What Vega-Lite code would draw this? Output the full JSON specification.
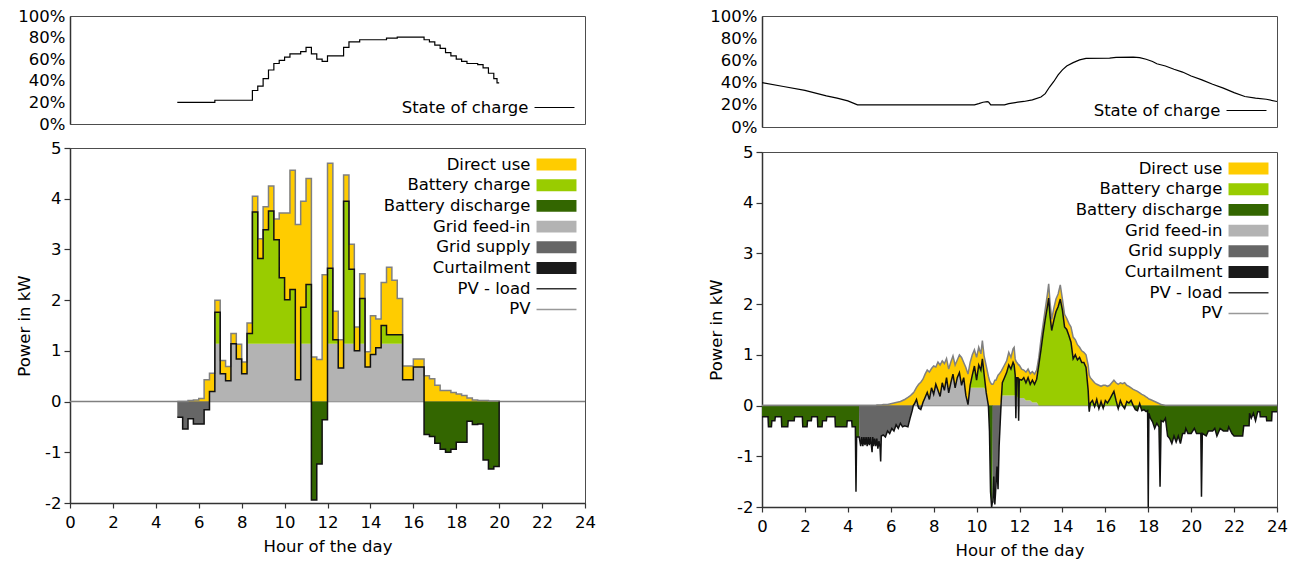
{
"$schema": "https://vega.github.io/schema/vega-lite/v6.json",
"background": "white",
"padding": {"left": 16, "top": 7, "right": 5, "bottom": 0},
"config": {
 "font": "DejaVu Sans",
 "view": {"stroke": "#4d4d4d", "strokeWidth": 1},
 "axis": {"labelFontSize": 16.5, "labelColor": "#000", "titleFontSize": 16.5, "titleFontWeight": "normal", "titleColor": "#000", "domainColor": "#333", "domainWidth": 1.5, "tickColor": "#333", "tickWidth": 1.2, "grid": false, "labelOverlap": false, "labelFlush": false},
 "legend": {"labelFontSize": 16.5, "labelColor": "#000", "padding": 0}
},
"datasets": {
"L": [
{"t":5,"pv":0,"net":-0.31,"feed":0,"chg":0,"dir":0,"dis":0,"sup":-0.31},
{"t":5.25,"pv":0,"net":-0.54,"feed":0,"chg":0,"dir":0,"dis":0,"sup":-0.54},
{"t":5.5,"pv":0.02,"net":-0.34,"feed":0,"chg":0,"dir":0.02,"dis":0,"sup":-0.34},
{"t":5.75,"pv":0.03,"net":-0.44,"feed":0,"chg":0,"dir":0.03,"dis":0,"sup":-0.44},
{"t":6,"pv":0.06,"net":-0.44,"feed":0,"chg":0,"dir":0.06,"dis":0,"sup":-0.44},
{"t":6.25,"pv":0.43,"net":-0.16,"feed":0,"chg":0,"dir":0.43,"dis":0,"sup":-0.16},
{"t":6.5,"pv":0.56,"net":0.2,"feed":0.2,"chg":0,"dir":0.36,"dis":0,"sup":0},
{"t":6.75,"pv":2,"net":1.76,"feed":1.14,"chg":0.62,"dir":0.24,"dis":0,"sup":0},
{"t":7,"pv":0.81,"net":0.55,"feed":0.55,"chg":0,"dir":0.26,"dis":0,"sup":0},
{"t":7.25,"pv":0.69,"net":0.41,"feed":0.41,"chg":0,"dir":0.28,"dis":0,"sup":0},
{"t":7.5,"pv":1.34,"net":1.14,"feed":1.14,"chg":0,"dir":0.2,"dis":0,"sup":0},
{"t":7.75,"pv":1.13,"net":0.84,"feed":0.84,"chg":0,"dir":0.29,"dis":0,"sup":0},
{"t":8,"pv":0.78,"net":0.55,"feed":0.55,"chg":0,"dir":0.23,"dis":0,"sup":0},
{"t":8.25,"pv":1.55,"net":1.34,"feed":1.14,"chg":0.2,"dir":0.21,"dis":0,"sup":0},
{"t":8.5,"pv":4.05,"net":3.74,"feed":1.14,"chg":2.6,"dir":0.31,"dis":0,"sup":0},
{"t":8.75,"pv":3.21,"net":2.82,"feed":1.14,"chg":1.68,"dir":0.39,"dis":0,"sup":0},
{"t":9,"pv":3.84,"net":3.39,"feed":1.14,"chg":2.25,"dir":0.45,"dis":0,"sup":0},
{"t":9.25,"pv":4.25,"net":3.76,"feed":1.14,"chg":2.62,"dir":0.49,"dis":0,"sup":0},
{"t":9.5,"pv":3.6,"net":3.19,"feed":1.14,"chg":2.05,"dir":0.41,"dis":0,"sup":0},
{"t":9.75,"pv":3.72,"net":2.44,"feed":1.14,"chg":1.3,"dir":1.28,"dis":0,"sup":0},
{"t":10,"pv":3.72,"net":2.01,"feed":1.14,"chg":0.87,"dir":1.71,"dis":0,"sup":0},
{"t":10.25,"pv":4.56,"net":2.21,"feed":1.14,"chg":1.07,"dir":2.35,"dis":0,"sup":0},
{"t":10.5,"pv":3.49,"net":0.43,"feed":0.43,"chg":0,"dir":3.06,"dis":0,"sup":0},
{"t":10.75,"pv":3.95,"net":1.86,"feed":1.14,"chg":0.72,"dir":2.09,"dis":0,"sup":0},
{"t":11,"pv":4.4,"net":2.31,"feed":1.14,"chg":1.17,"dir":2.09,"dis":0,"sup":0},
{"t":11.25,"pv":0.88,"net":-1.94,"feed":0,"chg":0,"dir":0.88,"dis":-1.94,"sup":0},
{"t":11.5,"pv":0.83,"net":-1.23,"feed":0,"chg":0,"dir":0.83,"dis":-1.23,"sup":0},
{"t":11.75,"pv":2.5,"net":-0.36,"feed":0,"chg":0,"dir":2.5,"dis":-0.36,"sup":0},
{"t":12,"pv":4.7,"net":2.63,"feed":1.14,"chg":1.49,"dir":2.07,"dis":0,"sup":0},
{"t":12.25,"pv":1.78,"net":1.22,"feed":1.14,"chg":0.08,"dir":0.56,"dis":0,"sup":0},
{"t":12.5,"pv":1.22,"net":0.66,"feed":0.66,"chg":0,"dir":0.56,"dis":0,"sup":0},
{"t":12.75,"pv":4.47,"net":3.95,"feed":1.14,"chg":2.81,"dir":0.52,"dis":0,"sup":0},
{"t":13,"pv":3.1,"net":2.61,"feed":1.14,"chg":1.47,"dir":0.49,"dis":0,"sup":0},
{"t":13.25,"pv":1.47,"net":1,"feed":1,"chg":0,"dir":0.47,"dis":0,"sup":0},
{"t":13.5,"pv":2.52,"net":2.03,"feed":1.14,"chg":0.89,"dir":0.49,"dis":0,"sup":0},
{"t":13.75,"pv":0.98,"net":0.68,"feed":0.68,"chg":0,"dir":0.3,"dis":0,"sup":0},
{"t":14,"pv":1.69,"net":0.93,"feed":0.93,"chg":0,"dir":0.76,"dis":0,"sup":0},
{"t":14.25,"pv":1.63,"net":1.06,"feed":1.06,"chg":0,"dir":0.57,"dis":0,"sup":0},
{"t":14.5,"pv":2.35,"net":1.5,"feed":1.14,"chg":0.36,"dir":0.85,"dis":0,"sup":0},
{"t":14.75,"pv":2.65,"net":1.32,"feed":1.14,"chg":0.18,"dir":1.33,"dis":0,"sup":0},
{"t":15,"pv":2.39,"net":1.32,"feed":1.14,"chg":0.18,"dir":1.07,"dis":0,"sup":0},
{"t":15.25,"pv":2.03,"net":1.32,"feed":1.14,"chg":0.18,"dir":0.71,"dis":0,"sup":0},
{"t":15.5,"pv":0.7,"net":0.43,"feed":0.43,"chg":0,"dir":0.27,"dis":0,"sup":0},
{"t":15.75,"pv":0.7,"net":0.43,"feed":0.43,"chg":0,"dir":0.27,"dis":0,"sup":0},
{"t":16,"pv":0.84,"net":0.68,"feed":0.68,"chg":0,"dir":0.16,"dis":0,"sup":0},
{"t":16.25,"pv":0.84,"net":0.68,"feed":0.68,"chg":0,"dir":0.16,"dis":0,"sup":0},
{"t":16.5,"pv":0.51,"net":-0.65,"feed":0,"chg":0,"dir":0.51,"dis":-0.65,"sup":0},
{"t":16.75,"pv":0.45,"net":-0.69,"feed":0,"chg":0,"dir":0.45,"dis":-0.69,"sup":0},
{"t":17,"pv":0.32,"net":-0.82,"feed":0,"chg":0,"dir":0.32,"dis":-0.82,"sup":0},
{"t":17.25,"pv":0.22,"net":-0.94,"feed":0,"chg":0,"dir":0.22,"dis":-0.94,"sup":0},
{"t":17.5,"pv":0.22,"net":-1,"feed":0,"chg":0,"dir":0.22,"dis":-1,"sup":0},
{"t":17.75,"pv":0.18,"net":-0.94,"feed":0,"chg":0,"dir":0.18,"dis":-0.94,"sup":0},
{"t":18,"pv":0.15,"net":-0.8,"feed":0,"chg":0,"dir":0.15,"dis":-0.8,"sup":0},
{"t":18.25,"pv":0.12,"net":-0.8,"feed":0,"chg":0,"dir":0.12,"dis":-0.8,"sup":0},
{"t":18.5,"pv":0.07,"net":-0.39,"feed":0,"chg":0,"dir":0.07,"dis":-0.39,"sup":0},
{"t":18.75,"pv":0.03,"net":-0.45,"feed":0,"chg":0,"dir":0.03,"dis":-0.45,"sup":0},
{"t":19,"pv":0.02,"net":-0.44,"feed":0,"chg":0,"dir":0.02,"dis":-0.44,"sup":0},
{"t":19.25,"pv":0.02,"net":-1.15,"feed":0,"chg":0,"dir":0.02,"dis":-1.15,"sup":0},
{"t":19.5,"pv":0.01,"net":-1.33,"feed":0,"chg":0,"dir":0.01,"dis":-1.33,"sup":0},
{"t":19.75,"pv":0.01,"net":-1.28,"feed":0,"chg":0,"dir":0.01,"dis":-1.28,"sup":0},
{"t":20,"pv":0,"net":0,"feed":0,"chg":0,"dir":0,"dis":0,"sup":0}
],
"LS": [
{"t":5,"soc":20},{"t":6.75,"soc":22},{"t":8.5,"soc":31},{"t":8.75,"soc":35},{"t":9,"soc":42},{"t":9.25,"soc":50},{"t":9.5,"soc":56},{"t":9.75,"soc":59},{"t":10,"soc":62},{"t":10.25,"soc":65},{"t":10.75,"soc":67},{"t":11,"soc":71},{"t":11.25,"soc":65},{"t":11.5,"soc":60},{"t":11.75,"soc":58},{"t":12,"soc":63},{"t":12.75,"soc":71},{"t":13,"soc":76},{"t":13.5,"soc":78},{"t":14.75,"soc":79.5},{"t":15.25,"soc":80.5},{"t":16.5,"soc":78},{"t":16.75,"soc":76},{"t":17,"soc":73},{"t":17.25,"soc":70},{"t":17.5,"soc":66},{"t":17.75,"soc":63},{"t":18,"soc":60},{"t":18.25,"soc":58},{"t":18.5,"soc":56},{"t":19,"soc":55},{"t":19.25,"soc":52},{"t":19.5,"soc":47},{"t":19.75,"soc":42},{"t":19.9,"soc":38},{"t":20,"soc":38}
],
"R": [
{"t":0,"pv":0,"net":-0.22,"feed":0,"chg":0,"dir":0,"dis":-0.22,"sup":0},
{"t":0.28,"pv":0,"net":-0.22,"feed":0,"chg":0,"dir":0,"dis":-0.22,"sup":0},
{"t":0.3,"pv":0,"net":-0.42,"feed":0,"chg":0,"dir":0,"dis":-0.42,"sup":0},
{"t":0.44,"pv":0,"net":-0.42,"feed":0,"chg":0,"dir":0,"dis":-0.42,"sup":0},
{"t":0.46,"pv":0,"net":-0.3,"feed":0,"chg":0,"dir":0,"dis":-0.3,"sup":0},
{"t":0.6,"pv":0,"net":-0.3,"feed":0,"chg":0,"dir":0,"dis":-0.3,"sup":0},
{"t":0.62,"pv":0,"net":-0.22,"feed":0,"chg":0,"dir":0,"dis":-0.22,"sup":0},
{"t":0.9,"pv":0,"net":-0.22,"feed":0,"chg":0,"dir":0,"dis":-0.22,"sup":0},
{"t":0.92,"pv":0,"net":-0.42,"feed":0,"chg":0,"dir":0,"dis":-0.42,"sup":0},
{"t":1.2,"pv":0,"net":-0.42,"feed":0,"chg":0,"dir":0,"dis":-0.42,"sup":0},
{"t":1.22,"pv":0,"net":-0.3,"feed":0,"chg":0,"dir":0,"dis":-0.3,"sup":0},
{"t":1.5,"pv":0,"net":-0.3,"feed":0,"chg":0,"dir":0,"dis":-0.3,"sup":0},
{"t":1.52,"pv":0,"net":-0.22,"feed":0,"chg":0,"dir":0,"dis":-0.22,"sup":0},
{"t":1.88,"pv":0,"net":-0.22,"feed":0,"chg":0,"dir":0,"dis":-0.22,"sup":0},
{"t":1.9,"pv":0,"net":-0.42,"feed":0,"chg":0,"dir":0,"dis":-0.42,"sup":0},
{"t":2.1,"pv":0,"net":-0.42,"feed":0,"chg":0,"dir":0,"dis":-0.42,"sup":0},
{"t":2.12,"pv":0,"net":-0.3,"feed":0,"chg":0,"dir":0,"dis":-0.3,"sup":0},
{"t":2.3,"pv":0,"net":-0.3,"feed":0,"chg":0,"dir":0,"dis":-0.3,"sup":0},
{"t":2.32,"pv":0,"net":-0.22,"feed":0,"chg":0,"dir":0,"dis":-0.22,"sup":0},
{"t":2.58,"pv":0,"net":-0.22,"feed":0,"chg":0,"dir":0,"dis":-0.22,"sup":0},
{"t":2.6,"pv":0,"net":-0.42,"feed":0,"chg":0,"dir":0,"dis":-0.42,"sup":0},
{"t":2.8,"pv":0,"net":-0.42,"feed":0,"chg":0,"dir":0,"dis":-0.42,"sup":0},
{"t":2.82,"pv":0,"net":-0.3,"feed":0,"chg":0,"dir":0,"dis":-0.3,"sup":0},
{"t":3,"pv":0,"net":-0.3,"feed":0,"chg":0,"dir":0,"dis":-0.3,"sup":0},
{"t":3.02,"pv":0,"net":-0.22,"feed":0,"chg":0,"dir":0,"dis":-0.22,"sup":0},
{"t":3.4,"pv":0,"net":-0.22,"feed":0,"chg":0,"dir":0,"dis":-0.22,"sup":0},
{"t":3.42,"pv":0,"net":-0.42,"feed":0,"chg":0,"dir":0,"dis":-0.42,"sup":0},
{"t":3.95,"pv":0,"net":-0.42,"feed":0,"chg":0,"dir":0,"dis":-0.42,"sup":0},
{"t":3.97,"pv":0,"net":-0.3,"feed":0,"chg":0,"dir":0,"dis":-0.3,"sup":0},
{"t":4.18,"pv":0,"net":-0.3,"feed":0,"chg":0,"dir":0,"dis":-0.3,"sup":0},
{"t":4.2,"pv":0,"net":-0.42,"feed":0,"chg":0,"dir":0,"dis":-0.42,"sup":0},
{"t":4.35,"pv":0,"net":-0.42,"feed":0,"chg":0,"dir":0,"dis":-0.42,"sup":0},
{"t":4.38,"pv":0,"net":-1.7,"feed":0,"chg":0,"dir":0,"dis":-1.7,"sup":0},
{"t":4.41,"pv":0,"net":-0.62,"feed":0,"chg":0,"dir":0,"dis":-0.62,"sup":0},
{"t":4.52,"pv":0,"net":-0.62,"feed":0,"chg":0,"dir":0,"dis":-0.62,"sup":0},
{"t":4.53,"pv":0,"net":-0.62,"feed":0,"chg":0,"dir":0,"dis":0,"sup":-0.62},
{"t":4.6,"pv":0,"net":-0.8,"feed":0,"chg":0,"dir":0,"dis":0,"sup":-0.8},
{"t":4.65,"pv":0,"net":-0.62,"feed":0,"chg":0,"dir":0,"dis":0,"sup":-0.62},
{"t":4.7,"pv":0,"net":-0.8,"feed":0,"chg":0,"dir":0,"dis":0,"sup":-0.8},
{"t":4.75,"pv":0,"net":-0.62,"feed":0,"chg":0,"dir":0,"dis":0,"sup":-0.62},
{"t":4.8,"pv":0,"net":-0.78,"feed":0,"chg":0,"dir":0,"dis":0,"sup":-0.78},
{"t":4.85,"pv":0,"net":-0.62,"feed":0,"chg":0,"dir":0,"dis":0,"sup":-0.62},
{"t":4.9,"pv":0,"net":-0.8,"feed":0,"chg":0,"dir":0,"dis":0,"sup":-0.8},
{"t":4.95,"pv":0,"net":-0.62,"feed":0,"chg":0,"dir":0,"dis":0,"sup":-0.62},
{"t":5,"pv":0,"net":-0.78,"feed":0,"chg":0,"dir":0,"dis":0,"sup":-0.78},
{"t":5.05,"pv":0,"net":-0.62,"feed":0,"chg":0,"dir":0,"dis":0,"sup":-0.62},
{"t":5.1,"pv":0,"net":-0.8,"feed":0,"chg":0,"dir":0,"dis":0,"sup":-0.8},
{"t":5.13,"pv":0,"net":-0.92,"feed":0,"chg":0,"dir":0,"dis":0,"sup":-0.92},
{"t":5.16,"pv":0,"net":-0.62,"feed":0,"chg":0,"dir":0,"dis":0,"sup":-0.62},
{"t":5.2,"pv":0,"net":-0.8,"feed":0,"chg":0,"dir":0,"dis":0,"sup":-0.8},
{"t":5.25,"pv":0,"net":-0.65,"feed":0,"chg":0,"dir":0,"dis":0,"sup":-0.65},
{"t":5.3,"pv":0,"net":-0.8,"feed":0,"chg":0,"dir":0,"dis":0,"sup":-0.8},
{"t":5.35,"pv":0.01,"net":-0.65,"feed":0,"chg":0,"dir":0.01,"dis":0,"sup":-0.65},
{"t":5.4,"pv":0.01,"net":-0.85,"feed":0,"chg":0,"dir":0.01,"dis":0,"sup":-0.85},
{"t":5.45,"pv":0.01,"net":-0.7,"feed":0,"chg":0,"dir":0.01,"dis":0,"sup":-0.7},
{"t":5.5,"pv":0.01,"net":-0.82,"feed":0,"chg":0,"dir":0.01,"dis":0,"sup":-0.82},
{"t":5.53,"pv":0.01,"net":-1.1,"feed":0,"chg":0,"dir":0.01,"dis":0,"sup":-1.1},
{"t":5.56,"pv":0.01,"net":-0.6,"feed":0,"chg":0,"dir":0.01,"dis":0,"sup":-0.6},
{"t":5.65,"pv":0.02,"net":-0.58,"feed":0,"chg":0,"dir":0.02,"dis":0,"sup":-0.58},
{"t":5.75,"pv":0.02,"net":-0.62,"feed":0,"chg":0,"dir":0.02,"dis":0,"sup":-0.62},
{"t":5.85,"pv":0.02,"net":-0.5,"feed":0,"chg":0,"dir":0.02,"dis":0,"sup":-0.5},
{"t":5.95,"pv":0.03,"net":-0.55,"feed":0,"chg":0,"dir":0.03,"dis":0,"sup":-0.55},
{"t":6.05,"pv":0.04,"net":-0.45,"feed":0,"chg":0,"dir":0.04,"dis":0,"sup":-0.45},
{"t":6.15,"pv":0.05,"net":-0.5,"feed":0,"chg":0,"dir":0.05,"dis":0,"sup":-0.5},
{"t":6.25,"pv":0.06,"net":-0.38,"feed":0,"chg":0,"dir":0.06,"dis":0,"sup":-0.38},
{"t":6.35,"pv":0.07,"net":-0.45,"feed":0,"chg":0,"dir":0.07,"dis":0,"sup":-0.45},
{"t":6.45,"pv":0.08,"net":-0.35,"feed":0,"chg":0,"dir":0.08,"dis":0,"sup":-0.35},
{"t":6.55,"pv":0.1,"net":-0.42,"feed":0,"chg":0,"dir":0.1,"dis":0,"sup":-0.42},
{"t":6.65,"pv":0.12,"net":-0.4,"feed":0,"chg":0,"dir":0.12,"dis":0,"sup":-0.4},
{"t":6.8,"pv":0.16,"net":-0.42,"feed":0,"chg":0,"dir":0.16,"dis":0,"sup":-0.42},
{"t":6.9,"pv":0.19,"net":-0.25,"feed":0,"chg":0,"dir":0.19,"dis":0,"sup":-0.25},
{"t":7,"pv":0.23,"net":-0.1,"feed":0,"chg":0,"dir":0.23,"dis":0,"sup":-0.1},
{"t":7.05,"pv":0.25,"net":0,"feed":0,"chg":0,"dir":0.25,"dis":0,"sup":0},
{"t":7.1,"pv":0.28,"net":0.03,"feed":0.03,"chg":0,"dir":0.25,"dis":0,"sup":0},
{"t":7.2,"pv":0.36,"net":0.12,"feed":0.12,"chg":0,"dir":0.24,"dis":0,"sup":0},
{"t":7.3,"pv":0.42,"net":-0.05,"feed":0,"chg":0,"dir":0.42,"dis":0,"sup":-0.05},
{"t":7.4,"pv":0.46,"net":-0.08,"feed":0,"chg":0,"dir":0.46,"dis":0,"sup":-0.08},
{"t":7.5,"pv":0.52,"net":0.06,"feed":0.06,"chg":0,"dir":0.46,"dis":0,"sup":0},
{"t":7.6,"pv":0.62,"net":0.16,"feed":0.16,"chg":0,"dir":0.46,"dis":0,"sup":0},
{"t":7.7,"pv":0.7,"net":0.26,"feed":0.26,"chg":0,"dir":0.44,"dis":0,"sup":0},
{"t":7.8,"pv":0.66,"net":0.12,"feed":0.12,"chg":0,"dir":0.54,"dis":0,"sup":0},
{"t":7.9,"pv":0.73,"net":0.35,"feed":0.35,"chg":0,"dir":0.38,"dis":0,"sup":0},
{"t":8,"pv":0.78,"net":0.22,"feed":0.22,"chg":0,"dir":0.56,"dis":0,"sup":0},
{"t":8.1,"pv":0.76,"net":0.42,"feed":0.42,"chg":0,"dir":0.34,"dis":0,"sup":0},
{"t":8.2,"pv":0.86,"net":0.3,"feed":0.3,"chg":0,"dir":0.56,"dis":0,"sup":0},
{"t":8.3,"pv":0.8,"net":0.18,"feed":0.18,"chg":0,"dir":0.62,"dis":0,"sup":0},
{"t":8.4,"pv":0.88,"net":0.45,"feed":0.45,"chg":0,"dir":0.43,"dis":0,"sup":0},
{"t":8.5,"pv":0.83,"net":0.3,"feed":0.3,"chg":0,"dir":0.53,"dis":0,"sup":0},
{"t":8.6,"pv":0.93,"net":0.55,"feed":0.55,"chg":0,"dir":0.38,"dis":0,"sup":0},
{"t":8.7,"pv":0.72,"net":0.25,"feed":0.25,"chg":0,"dir":0.47,"dis":0,"sup":0},
{"t":8.8,"pv":0.86,"net":0.45,"feed":0.45,"chg":0,"dir":0.41,"dis":0,"sup":0},
{"t":8.9,"pv":0.98,"net":0.62,"feed":0.62,"chg":0,"dir":0.36,"dis":0,"sup":0},
{"t":9,"pv":0.8,"net":0.35,"feed":0.35,"chg":0,"dir":0.45,"dis":0,"sup":0},
{"t":9.1,"pv":0.9,"net":0.55,"feed":0.55,"chg":0,"dir":0.35,"dis":0,"sup":0},
{"t":9.2,"pv":1,"net":0.65,"feed":0.65,"chg":0,"dir":0.35,"dis":0,"sup":0},
{"t":9.3,"pv":0.95,"net":0.4,"feed":0.4,"chg":0,"dir":0.55,"dis":0,"sup":0},
{"t":9.4,"pv":0.85,"net":0.55,"feed":0.55,"chg":0,"dir":0.3,"dis":0,"sup":0},
{"t":9.5,"pv":0.75,"net":0.2,"feed":0.2,"chg":0,"dir":0.55,"dis":0,"sup":0},
{"t":9.6,"pv":0.62,"net":0.02,"feed":0.02,"chg":0,"dir":0.6,"dis":0,"sup":0},
{"t":9.7,"pv":0.85,"net":0.4,"feed":0.35,"chg":0.05,"dir":0.45,"dis":0,"sup":0},
{"t":9.8,"pv":1,"net":0.6,"feed":0.35,"chg":0.25,"dir":0.4,"dis":0,"sup":0},
{"t":9.9,"pv":1.1,"net":0.78,"feed":0.35,"chg":0.43,"dir":0.32,"dis":0,"sup":0},
{"t":10,"pv":0.95,"net":0.5,"feed":0.35,"chg":0.15,"dir":0.45,"dis":0,"sup":0},
{"t":10.1,"pv":1.15,"net":0.8,"feed":0.35,"chg":0.45,"dir":0.35,"dis":0,"sup":0},
{"t":10.2,"pv":1.02,"net":0.7,"feed":0.35,"chg":0.35,"dir":0.32,"dis":0,"sup":0},
{"t":10.27,"pv":1.28,"net":0.92,"feed":0.35,"chg":0.57,"dir":0.36,"dis":0,"sup":0},
{"t":10.35,"pv":0.98,"net":0.62,"feed":0.35,"chg":0.27,"dir":0.36,"dis":0,"sup":0},
{"t":10.45,"pv":0.78,"net":0.25,"feed":0.25,"chg":0,"dir":0.53,"dis":0,"sup":0},
{"t":10.55,"pv":0.58,"net":0,"feed":0,"chg":0,"dir":0.58,"dis":0,"sup":0},
{"t":10.6,"pv":0.5,"net":-0.5,"feed":0,"chg":0,"dir":0.5,"dis":-0.5,"sup":0},
{"t":10.65,"pv":0.45,"net":-1.7,"feed":0,"chg":0,"dir":0.45,"dis":-1.7,"sup":0},
{"t":10.7,"pv":0.42,"net":-2,"feed":0,"chg":0,"dir":0.42,"dis":-2,"sup":0},
{"t":10.74,"pv":0.42,"net":-1.9,"feed":0,"chg":0,"dir":0.42,"dis":-1.9,"sup":0},
{"t":10.76,"pv":0.42,"net":-1.9,"feed":0,"chg":0,"dir":0.42,"dis":0,"sup":-1.9},
{"t":10.8,"pv":0.45,"net":-1.4,"feed":0,"chg":0,"dir":0.45,"dis":0,"sup":-1.4},
{"t":10.85,"pv":0.5,"net":-1.95,"feed":0,"chg":0,"dir":0.5,"dis":0,"sup":-1.95},
{"t":10.9,"pv":0.5,"net":-1.6,"feed":0,"chg":0,"dir":0.5,"dis":0,"sup":-1.6},
{"t":10.95,"pv":0.55,"net":-1.2,"feed":0,"chg":0,"dir":0.55,"dis":0,"sup":-1.2},
{"t":11,"pv":0.6,"net":-1.65,"feed":0,"chg":0,"dir":0.6,"dis":0,"sup":-1.65},
{"t":11.05,"pv":0.62,"net":-0.8,"feed":0,"chg":0,"dir":0.62,"dis":0,"sup":-0.8},
{"t":11.1,"pv":0.65,"net":-0.35,"feed":0,"chg":0,"dir":0.65,"dis":0,"sup":-0.35},
{"t":11.15,"pv":0.68,"net":0.1,"feed":0.1,"chg":0,"dir":0.58,"dis":0,"sup":0},
{"t":11.2,"pv":0.72,"net":0.45,"feed":0.2,"chg":0.25,"dir":0.27,"dis":0,"sup":0},
{"t":11.3,"pv":0.8,"net":0.55,"feed":0.2,"chg":0.35,"dir":0.25,"dis":0,"sup":0},
{"t":11.4,"pv":0.88,"net":0.65,"feed":0.2,"chg":0.45,"dir":0.23,"dis":0,"sup":0},
{"t":11.5,"pv":1.05,"net":0.8,"feed":0.2,"chg":0.6,"dir":0.25,"dis":0,"sup":0},
{"t":11.6,"pv":0.95,"net":0.72,"feed":0.2,"chg":0.52,"dir":0.23,"dis":0,"sup":0},
{"t":11.7,"pv":1.12,"net":0.85,"feed":0.2,"chg":0.65,"dir":0.27,"dis":0,"sup":0},
{"t":11.75,"pv":1.15,"net":0.8,"feed":0.2,"chg":0.6,"dir":0.35,"dis":0,"sup":0},
{"t":11.8,"pv":0.92,"net":0.6,"feed":0.2,"chg":0.4,"dir":0.32,"dis":0,"sup":0},
{"t":11.83,"pv":0.88,"net":-0.25,"feed":0,"chg":0,"dir":0.88,"dis":0,"sup":-0.25},
{"t":11.86,"pv":0.86,"net":0.55,"feed":0.2,"chg":0.35,"dir":0.31,"dis":0,"sup":0},
{"t":11.93,"pv":0.82,"net":0.55,"feed":0.15,"chg":0.4,"dir":0.27,"dis":0,"sup":0},
{"t":11.96,"pv":0.8,"net":-0.3,"feed":0,"chg":0,"dir":0.8,"dis":0,"sup":-0.3},
{"t":11.99,"pv":0.8,"net":0.52,"feed":0.15,"chg":0.37,"dir":0.28,"dis":0,"sup":0},
{"t":12.1,"pv":0.72,"net":0.5,"feed":0.15,"chg":0.35,"dir":0.22,"dis":0,"sup":0},
{"t":12.2,"pv":0.7,"net":0.55,"feed":0.15,"chg":0.4,"dir":0.15,"dis":0,"sup":0},
{"t":12.3,"pv":0.66,"net":0.45,"feed":0.1,"chg":0.35,"dir":0.21,"dis":0,"sup":0},
{"t":12.4,"pv":0.72,"net":0.55,"feed":0.1,"chg":0.45,"dir":0.17,"dis":0,"sup":0},
{"t":12.5,"pv":0.63,"net":0.42,"feed":0.1,"chg":0.32,"dir":0.21,"dis":0,"sup":0},
{"t":12.6,"pv":0.67,"net":0.5,"feed":0.06,"chg":0.44,"dir":0.17,"dis":0,"sup":0},
{"t":12.7,"pv":0.62,"net":0.42,"feed":0.06,"chg":0.36,"dir":0.2,"dis":0,"sup":0},
{"t":12.8,"pv":0.7,"net":0.52,"feed":0.06,"chg":0.46,"dir":0.18,"dis":0,"sup":0},
{"t":12.9,"pv":0.95,"net":0.8,"feed":0,"chg":0.8,"dir":0.15,"dis":0,"sup":0},
{"t":13,"pv":1.3,"net":1.1,"feed":0,"chg":1.1,"dir":0.2,"dis":0,"sup":0},
{"t":13.1,"pv":1.6,"net":1.42,"feed":0,"chg":1.42,"dir":0.18,"dis":0,"sup":0},
{"t":13.2,"pv":1.9,"net":1.7,"feed":0,"chg":1.7,"dir":0.2,"dis":0,"sup":0},
{"t":13.3,"pv":2.2,"net":1.95,"feed":0,"chg":1.95,"dir":0.25,"dis":0,"sup":0},
{"t":13.36,"pv":2.4,"net":2.12,"feed":0,"chg":2.12,"dir":0.28,"dis":0,"sup":0},
{"t":13.42,"pv":2.05,"net":1.78,"feed":0,"chg":1.78,"dir":0.27,"dis":0,"sup":0},
{"t":13.5,"pv":1.7,"net":1.48,"feed":0,"chg":1.48,"dir":0.22,"dis":0,"sup":0},
{"t":13.6,"pv":1.92,"net":1.68,"feed":0,"chg":1.68,"dir":0.24,"dis":0,"sup":0},
{"t":13.7,"pv":2.1,"net":1.85,"feed":0,"chg":1.85,"dir":0.25,"dis":0,"sup":0},
{"t":13.8,"pv":2.2,"net":1.95,"feed":0,"chg":1.95,"dir":0.25,"dis":0,"sup":0},
{"t":13.9,"pv":2.38,"net":2.1,"feed":0,"chg":2.1,"dir":0.28,"dis":0,"sup":0},
{"t":14,"pv":2.1,"net":1.88,"feed":0,"chg":1.88,"dir":0.22,"dis":0,"sup":0},
{"t":14.1,"pv":1.8,"net":1.55,"feed":0,"chg":1.55,"dir":0.25,"dis":0,"sup":0},
{"t":14.2,"pv":1.72,"net":1.5,"feed":0,"chg":1.5,"dir":0.22,"dis":0,"sup":0},
{"t":14.3,"pv":1.62,"net":1.38,"feed":0,"chg":1.38,"dir":0.24,"dis":0,"sup":0},
{"t":14.4,"pv":1.55,"net":1.25,"feed":0,"chg":1.25,"dir":0.3,"dis":0,"sup":0},
{"t":14.5,"pv":1.35,"net":0.92,"feed":0,"chg":0.92,"dir":0.43,"dis":0,"sup":0},
{"t":14.6,"pv":1.3,"net":1,"feed":0,"chg":1,"dir":0.3,"dis":0,"sup":0},
{"t":14.7,"pv":1.2,"net":0.9,"feed":0,"chg":0.9,"dir":0.3,"dis":0,"sup":0},
{"t":14.8,"pv":1.15,"net":0.95,"feed":0,"chg":0.95,"dir":0.2,"dis":0,"sup":0},
{"t":14.9,"pv":1.08,"net":0.85,"feed":0,"chg":0.85,"dir":0.23,"dis":0,"sup":0},
{"t":15,"pv":1.05,"net":0.85,"feed":0,"chg":0.85,"dir":0.2,"dis":0,"sup":0},
{"t":15.1,"pv":1,"net":0.75,"feed":0,"chg":0.75,"dir":0.25,"dis":0,"sup":0},
{"t":15.2,"pv":0.8,"net":0.3,"feed":0,"chg":0.3,"dir":0.5,"dis":0,"sup":0},
{"t":15.25,"pv":0.6,"net":-0.12,"feed":0,"chg":0,"dir":0.6,"dis":-0.12,"sup":0},
{"t":15.3,"pv":0.55,"net":0.05,"feed":0,"chg":0.05,"dir":0.5,"dis":0,"sup":0},
{"t":15.4,"pv":0.5,"net":0.1,"feed":0,"chg":0.1,"dir":0.4,"dis":0,"sup":0},
{"t":15.5,"pv":0.45,"net":-0.02,"feed":0,"chg":0,"dir":0.45,"dis":-0.02,"sup":0},
{"t":15.6,"pv":0.42,"net":0.12,"feed":0,"chg":0.12,"dir":0.3,"dis":0,"sup":0},
{"t":15.7,"pv":0.4,"net":-0.06,"feed":0,"chg":0,"dir":0.4,"dis":-0.06,"sup":0},
{"t":15.8,"pv":0.38,"net":0.08,"feed":0,"chg":0.08,"dir":0.3,"dis":0,"sup":0},
{"t":15.9,"pv":0.4,"net":-0.05,"feed":0,"chg":0,"dir":0.4,"dis":-0.05,"sup":0},
{"t":16,"pv":0.4,"net":0.1,"feed":0,"chg":0.1,"dir":0.3,"dis":0,"sup":0},
{"t":16.1,"pv":0.38,"net":0.05,"feed":0,"chg":0.05,"dir":0.33,"dis":0,"sup":0},
{"t":16.2,"pv":0.4,"net":0.12,"feed":0,"chg":0.12,"dir":0.28,"dis":0,"sup":0},
{"t":16.3,"pv":0.45,"net":0.2,"feed":0,"chg":0.2,"dir":0.25,"dis":0,"sup":0},
{"t":16.4,"pv":0.5,"net":0.28,"feed":0,"chg":0.28,"dir":0.22,"dis":0,"sup":0},
{"t":16.5,"pv":0.45,"net":0.1,"feed":0,"chg":0.1,"dir":0.35,"dis":0,"sup":0},
{"t":16.6,"pv":0.42,"net":-0.06,"feed":0,"chg":0,"dir":0.42,"dis":-0.06,"sup":0},
{"t":16.7,"pv":0.45,"net":0.1,"feed":0,"chg":0.1,"dir":0.35,"dis":0,"sup":0},
{"t":16.8,"pv":0.43,"net":0,"feed":0,"chg":0,"dir":0.43,"dis":0,"sup":0},
{"t":16.9,"pv":0.45,"net":-0.06,"feed":0,"chg":0,"dir":0.45,"dis":-0.06,"sup":0},
{"t":17,"pv":0.4,"net":0.08,"feed":0,"chg":0.08,"dir":0.32,"dis":0,"sup":0},
{"t":17.1,"pv":0.38,"net":0.05,"feed":0,"chg":0.05,"dir":0.33,"dis":0,"sup":0},
{"t":17.2,"pv":0.35,"net":0.1,"feed":0,"chg":0.1,"dir":0.25,"dis":0,"sup":0},
{"t":17.3,"pv":0.32,"net":0,"feed":0,"chg":0,"dir":0.32,"dis":0,"sup":0},
{"t":17.4,"pv":0.3,"net":-0.08,"feed":0,"chg":0,"dir":0.3,"dis":-0.08,"sup":0},
{"t":17.5,"pv":0.28,"net":-0.1,"feed":0,"chg":0,"dir":0.28,"dis":-0.1,"sup":0},
{"t":17.6,"pv":0.25,"net":0.04,"feed":0,"chg":0.04,"dir":0.21,"dis":0,"sup":0},
{"t":17.7,"pv":0.22,"net":-0.1,"feed":0,"chg":0,"dir":0.22,"dis":-0.1,"sup":0},
{"t":17.8,"pv":0.2,"net":-0.08,"feed":0,"chg":0,"dir":0.2,"dis":-0.08,"sup":0},
{"t":17.9,"pv":0.17,"net":-0.12,"feed":0,"chg":0,"dir":0.17,"dis":-0.12,"sup":0},
{"t":17.97,"pv":0.15,"net":-0.1,"feed":0,"chg":0,"dir":0.15,"dis":-0.1,"sup":0},
{"t":18,"pv":0.14,"net":-2,"feed":0,"chg":0,"dir":0.14,"dis":-2,"sup":0},
{"t":18.03,"pv":0.13,"net":-0.15,"feed":0,"chg":0,"dir":0.13,"dis":-0.15,"sup":0},
{"t":18.1,"pv":0.12,"net":-0.25,"feed":0,"chg":0,"dir":0.12,"dis":-0.25,"sup":0},
{"t":18.2,"pv":0.1,"net":-0.32,"feed":0,"chg":0,"dir":0.1,"dis":-0.32,"sup":0},
{"t":18.3,"pv":0.08,"net":-0.45,"feed":0,"chg":0,"dir":0.08,"dis":-0.45,"sup":0},
{"t":18.4,"pv":0.06,"net":-0.35,"feed":0,"chg":0,"dir":0.06,"dis":-0.35,"sup":0},
{"t":18.5,"pv":0.04,"net":-0.42,"feed":0,"chg":0,"dir":0.04,"dis":-0.42,"sup":0},
{"t":18.55,"pv":0.03,"net":-1.6,"feed":0,"chg":0,"dir":0.03,"dis":-1.6,"sup":0},
{"t":18.6,"pv":0.02,"net":-0.3,"feed":0,"chg":0,"dir":0.02,"dis":-0.3,"sup":0},
{"t":18.7,"pv":0.01,"net":-0.32,"feed":0,"chg":0,"dir":0.01,"dis":-0.32,"sup":0},
{"t":18.8,"pv":0,"net":-0.25,"feed":0,"chg":0,"dir":0,"dis":-0.25,"sup":0},
{"t":18.9,"pv":0,"net":-0.6,"feed":0,"chg":0,"dir":0,"dis":-0.6,"sup":0},
{"t":19,"pv":0,"net":-0.65,"feed":0,"chg":0,"dir":0,"dis":-0.65,"sup":0},
{"t":19.1,"pv":0,"net":-0.75,"feed":0,"chg":0,"dir":0,"dis":-0.75,"sup":0},
{"t":19.2,"pv":0,"net":-0.6,"feed":0,"chg":0,"dir":0,"dis":-0.6,"sup":0},
{"t":19.3,"pv":0,"net":-0.72,"feed":0,"chg":0,"dir":0,"dis":-0.72,"sup":0},
{"t":19.4,"pv":0,"net":-0.6,"feed":0,"chg":0,"dir":0,"dis":-0.6,"sup":0},
{"t":19.5,"pv":0,"net":-0.75,"feed":0,"chg":0,"dir":0,"dis":-0.75,"sup":0},
{"t":19.6,"pv":0,"net":-0.55,"feed":0,"chg":0,"dir":0,"dis":-0.55,"sup":0},
{"t":19.7,"pv":0,"net":-0.55,"feed":0,"chg":0,"dir":0,"dis":-0.55,"sup":0},
{"t":19.75,"pv":0,"net":-0.45,"feed":0,"chg":0,"dir":0,"dis":-0.45,"sup":0},
{"t":19.85,"pv":0,"net":-0.55,"feed":0,"chg":0,"dir":0,"dis":-0.55,"sup":0},
{"t":20,"pv":0,"net":-0.55,"feed":0,"chg":0,"dir":0,"dis":-0.55,"sup":0},
{"t":20.15,"pv":0,"net":-0.45,"feed":0,"chg":0,"dir":0,"dis":-0.45,"sup":0},
{"t":20.25,"pv":0,"net":-0.55,"feed":0,"chg":0,"dir":0,"dis":-0.55,"sup":0},
{"t":20.45,"pv":0,"net":-0.55,"feed":0,"chg":0,"dir":0,"dis":-0.55,"sup":0},
{"t":20.48,"pv":0,"net":-1.8,"feed":0,"chg":0,"dir":0,"dis":-1.8,"sup":0},
{"t":20.52,"pv":0,"net":-0.55,"feed":0,"chg":0,"dir":0,"dis":-0.55,"sup":0},
{"t":20.7,"pv":0,"net":-0.6,"feed":0,"chg":0,"dir":0,"dis":-0.6,"sup":0},
{"t":20.8,"pv":0,"net":-0.5,"feed":0,"chg":0,"dir":0,"dis":-0.5,"sup":0},
{"t":21,"pv":0,"net":-0.5,"feed":0,"chg":0,"dir":0,"dis":-0.5,"sup":0},
{"t":21.1,"pv":0,"net":-0.45,"feed":0,"chg":0,"dir":0,"dis":-0.45,"sup":0},
{"t":21.2,"pv":0,"net":-0.6,"feed":0,"chg":0,"dir":0,"dis":-0.6,"sup":0},
{"t":21.35,"pv":0,"net":-0.45,"feed":0,"chg":0,"dir":0,"dis":-0.45,"sup":0},
{"t":21.5,"pv":0,"net":-0.5,"feed":0,"chg":0,"dir":0,"dis":-0.5,"sup":0},
{"t":21.7,"pv":0,"net":-0.5,"feed":0,"chg":0,"dir":0,"dis":-0.5,"sup":0},
{"t":21.75,"pv":0,"net":-0.42,"feed":0,"chg":0,"dir":0,"dis":-0.42,"sup":0},
{"t":21.9,"pv":0,"net":-0.55,"feed":0,"chg":0,"dir":0,"dis":-0.55,"sup":0},
{"t":22,"pv":0,"net":-0.6,"feed":0,"chg":0,"dir":0,"dis":-0.6,"sup":0},
{"t":22.4,"pv":0,"net":-0.6,"feed":0,"chg":0,"dir":0,"dis":-0.6,"sup":0},
{"t":22.45,"pv":0,"net":-0.4,"feed":0,"chg":0,"dir":0,"dis":-0.4,"sup":0},
{"t":22.7,"pv":0,"net":-0.4,"feed":0,"chg":0,"dir":0,"dis":-0.4,"sup":0},
{"t":22.72,"pv":0,"net":-0.15,"feed":0,"chg":0,"dir":0,"dis":-0.15,"sup":0},
{"t":22.8,"pv":0,"net":-0.25,"feed":0,"chg":0,"dir":0,"dis":-0.25,"sup":0},
{"t":22.9,"pv":0,"net":-0.15,"feed":0,"chg":0,"dir":0,"dis":-0.15,"sup":0},
{"t":23,"pv":0,"net":-0.3,"feed":0,"chg":0,"dir":0,"dis":-0.3,"sup":0},
{"t":23.1,"pv":0,"net":-0.12,"feed":0,"chg":0,"dir":0,"dis":-0.12,"sup":0},
{"t":23.2,"pv":0,"net":-0.12,"feed":0,"chg":0,"dir":0,"dis":-0.12,"sup":0},
{"t":23.22,"pv":0,"net":-0.22,"feed":0,"chg":0,"dir":0,"dis":-0.22,"sup":0},
{"t":23.5,"pv":0,"net":-0.22,"feed":0,"chg":0,"dir":0,"dis":-0.22,"sup":0},
{"t":23.52,"pv":0,"net":-0.3,"feed":0,"chg":0,"dir":0,"dis":-0.3,"sup":0},
{"t":23.75,"pv":0,"net":-0.3,"feed":0,"chg":0,"dir":0,"dis":-0.3,"sup":0},
{"t":23.77,"pv":0,"net":-0.12,"feed":0,"chg":0,"dir":0,"dis":-0.12,"sup":0},
{"t":24,"pv":0,"net":-0.12,"feed":0,"chg":0,"dir":0,"dis":-0.12,"sup":0}
],
"RS": [
{"t":0,"soc":40},{"t":1,"soc":36.5},{"t":2,"soc":33},{"t":3,"soc":28},{"t":3.5,"soc":26},{"t":4,"soc":23.5},{"t":4.45,"soc":20},{"t":9.9,"soc":20},{"t":10.1,"soc":21},{"t":10.3,"soc":22.3},{"t":10.5,"soc":22.8},{"t":10.56,"soc":22.5},{"t":10.66,"soc":20},{"t":11.3,"soc":20},{"t":11.5,"soc":21},{"t":11.8,"soc":22},{"t":12.2,"soc":23},{"t":12.6,"soc":24.5},{"t":13,"soc":27},{"t":13.2,"soc":30},{"t":13.4,"soc":36},{"t":13.6,"soc":41},{"t":13.8,"soc":47},{"t":14,"soc":51.5},{"t":14.2,"soc":55},{"t":14.5,"soc":58},{"t":14.8,"soc":60.5},{"t":15.1,"soc":61.8},{"t":16.2,"soc":62},{"t":16.5,"soc":62.8},{"t":17.3,"soc":63},{"t":17.6,"soc":62.5},{"t":17.9,"soc":61},{"t":18.2,"soc":59},{"t":18.4,"soc":57},{"t":18.8,"soc":55},{"t":19.2,"soc":52},{"t":19.6,"soc":49.5},{"t":20,"soc":46},{"t":20.5,"soc":42.5},{"t":21,"soc":38.5},{"t":21.5,"soc":35},{"t":22,"soc":31},{"t":22.5,"soc":27.5},{"t":23,"soc":26},{"t":23.5,"soc":25},{"t":24,"soc":23}
]
},
"hconcat": [
{
 "spacing": 6,
 "resolve": {"scale": {"color": "independent", "stroke": "independent"}, "legend": {"color": "independent", "stroke": "independent"}},
 "vconcat": [
  {
   "width": 515, "height": 108,
   "data": {"name": "LS"},
   "mark": {"type": "line", "interpolate": "step-after", "strokeWidth": 1.2},
   "encoding": {
    "x": {"field": "t", "type": "quantitative", "scale": {"domain": [0, 24], "nice": false}, "axis": null},
    "y": {"field": "soc", "type": "quantitative", "scale": {"domain": [0, 100], "nice": false}, "axis": {"values": [0, 20, 40, 60, 80, 100], "labelExpr": "datum.value + '%'", "ticks": false, "labelPadding": 5, "title": null}},
    "stroke": {"datum": "State of charge", "type": "nominal", "scale": {"range": ["#000000"]}, "legend": {"title": null, "orient": "bottom-right", "offset": 8, "symbolType": "M-2.35,0H2.35", "symbolSize": 289, "symbolStrokeWidth": 1.2, "labelAlign": "right", "labelOffset": -35.5}}
   }
  },
  {
   "width": 515, "height": 355,
   "layer": [
    {"data": {"values": [{"z": 0}]}, "mark": {"type": "rule", "color": "#808080", "strokeWidth": 1.5}, "encoding": {"y": {"field": "z", "type": "quantitative", "scale": {"domain": [-2, 5], "nice": false}}}},
    {
     "data": {"name": "L"},
     "transform": [
      {"fold": ["feed", "chg", "dir", "dis", "sup"], "as": ["comp", "kw"]},
      {"lookup": "comp", "from": {"data": {"values": [{"comp": "dis", "rank": 1}, {"comp": "sup", "rank": 2}, {"comp": "feed", "rank": 3}, {"comp": "chg", "rank": 4}, {"comp": "dir", "rank": 5}]}, "key": "comp", "fields": ["rank"]}}
     ],
     "mark": {"type": "area", "interpolate": "step-after", "opacity": 1},
     "encoding": {
      "x": {"field": "t", "type": "quantitative", "scale": {"domain": [0, 24], "nice": false}, "axis": {"values": [0,1,2,3,4,5,6,7,8,9,10,11,12,13,14,15,16,17,18,19,20,21,22,23,24], "labelExpr": "datum.value % 2 == 0 ? '' + datum.value : ''", "tickSize": 5, "labelPadding": 6, "title": "Hour of the day", "titlePadding": 8}},
      "y": {"field": "kw", "type": "quantitative", "stack": "zero", "scale": {"domain": [-2, 5], "nice": false}, "axis": {"values": [-2,-1.5,-1,-0.5,0,0.5,1,1.5,2,2.5,3,3.5,4,4.5,5], "labelExpr": "datum.value % 1 == 0 ? '' + datum.value : ''", "tickSize": 6, "labelPadding": 3, "title": "Power in kW", "titlePadding": 12}},
      "color": {"field": "comp", "type": "nominal", "scale": {"domain": ["dir", "chg", "dis", "feed", "sup", "cur", "pvl", "pv"], "range": ["#FFCC00", "#99CC00", "#336600", "#B3B3B3", "#666666", "#1A1A1A", "#333333", "#999999"]},
       "legend": {"title": null, "orient": "top-right", "offset": 8, "symbolType": "M-2.35,-0.7H2.35V0.7H-2.35Z", "symbolSize": 289, "symbolStrokeWidth": 0, "rowPadding": 3.7, "labelAlign": "right", "labelOffset": -34.5,
        "labelExpr": "datum.value=='dir'?'Direct use':datum.value=='chg'?'Battery charge':datum.value=='dis'?'Battery discharge':datum.value=='feed'?'Grid feed-in':datum.value=='sup'?'Grid supply':datum.value=='cur'?'Curtailment':datum.value=='pvl'?'PV - load':'PV'",
        "encoding": {"symbols": {"shape": {"value": {"expr": "datum.value == 'pv' || datum.value == 'pvl' ? 'M-2.35,-0.09H2.35V0.09H-2.35Z' : 'M-2.35,-0.7H2.35V0.7H-2.35Z'"}}}}}},
      "order": {"field": "rank", "type": "quantitative"}
     }
    },
    {"data": {"name": "L"}, "mark": {"type": "line", "interpolate": "step-after", "color": "#808080", "strokeWidth": 1.5}, "encoding": {"x": {"field": "t", "type": "quantitative", "scale": {"domain": [0, 24], "nice": false}}, "y": {"field": "pv", "type": "quantitative", "scale": {"domain": [-2, 5], "nice": false}}}},
    {"data": {"name": "L"}, "mark": {"type": "line", "interpolate": "step-after", "color": "#111111", "strokeWidth": 1.5}, "encoding": {"x": {"field": "t", "type": "quantitative", "scale": {"domain": [0, 24], "nice": false}}, "y": {"field": "net", "type": "quantitative", "scale": {"domain": [-2, 5], "nice": false}}}}
   ]
  }
 ]
},
{
 "spacing": 7,
 "resolve": {"scale": {"color": "independent", "stroke": "independent"}, "legend": {"color": "independent", "stroke": "independent"}},
 "vconcat": [
  {
   "width": 515, "height": 111,
   "data": {"name": "RS"},
   "mark": {"type": "line", "strokeWidth": 1.2},
   "encoding": {
    "x": {"field": "t", "type": "quantitative", "scale": {"domain": [0, 24], "nice": false}, "axis": null},
    "y": {"field": "soc", "type": "quantitative", "scale": {"domain": [0, 100], "nice": false}, "axis": {"values": [0, 20, 40, 60, 80, 100], "labelExpr": "datum.value + '%'", "ticks": false, "labelPadding": 5, "title": null}},
    "stroke": {"datum": "State of charge", "type": "nominal", "scale": {"range": ["#000000"]}, "legend": {"title": null, "orient": "bottom-right", "offset": 8, "symbolType": "M-2.35,0H2.35", "symbolSize": 289, "symbolStrokeWidth": 1.2, "labelAlign": "right", "labelOffset": -35.5}}
   }
  },
  {
   "width": 515, "height": 355,
   "layer": [
    {"data": {"values": [{"z": 0}]}, "mark": {"type": "rule", "color": "#808080", "strokeWidth": 1.5}, "encoding": {"y": {"field": "z", "type": "quantitative", "scale": {"domain": [-2, 5], "nice": false}}}},
    {
     "data": {"name": "R"},
     "transform": [
      {"fold": ["feed", "chg", "dir", "dis", "sup"], "as": ["comp", "kw"]},
      {"lookup": "comp", "from": {"data": {"values": [{"comp": "dis", "rank": 1}, {"comp": "sup", "rank": 2}, {"comp": "feed", "rank": 3}, {"comp": "chg", "rank": 4}, {"comp": "dir", "rank": 5}]}, "key": "comp", "fields": ["rank"]}}
     ],
     "mark": {"type": "area", "interpolate": "linear", "opacity": 1},
     "encoding": {
      "x": {"field": "t", "type": "quantitative", "scale": {"domain": [0, 24], "nice": false}, "axis": {"values": [0,1,2,3,4,5,6,7,8,9,10,11,12,13,14,15,16,17,18,19,20,21,22,23,24], "labelExpr": "datum.value % 2 == 0 ? '' + datum.value : ''", "tickSize": 5, "labelPadding": 6, "title": "Hour of the day", "titlePadding": 8}},
      "y": {"field": "kw", "type": "quantitative", "stack": "zero", "scale": {"domain": [-2, 5], "nice": false}, "axis": {"values": [-2,-1.5,-1,-0.5,0,0.5,1,1.5,2,2.5,3,3.5,4,4.5,5], "labelExpr": "datum.value % 1 == 0 ? '' + datum.value : ''", "tickSize": 6, "labelPadding": 3, "title": "Power in kW", "titlePadding": 12}},
      "color": {"field": "comp", "type": "nominal", "scale": {"domain": ["dir", "chg", "dis", "feed", "sup", "cur", "pvl", "pv"], "range": ["#FFCC00", "#99CC00", "#336600", "#B3B3B3", "#666666", "#1A1A1A", "#333333", "#999999"]},
       "legend": {"title": null, "orient": "top-right", "offset": 8, "symbolType": "M-2.35,-0.7H2.35V0.7H-2.35Z", "symbolSize": 289, "symbolStrokeWidth": 0, "rowPadding": 3.7, "labelAlign": "right", "labelOffset": -34.5,
        "labelExpr": "datum.value=='dir'?'Direct use':datum.value=='chg'?'Battery charge':datum.value=='dis'?'Battery discharge':datum.value=='feed'?'Grid feed-in':datum.value=='sup'?'Grid supply':datum.value=='cur'?'Curtailment':datum.value=='pvl'?'PV - load':'PV'",
        "encoding": {"symbols": {"shape": {"value": {"expr": "datum.value == 'pv' || datum.value == 'pvl' ? 'M-2.35,-0.09H2.35V0.09H-2.35Z' : 'M-2.35,-0.7H2.35V0.7H-2.35Z'"}}}}}},
      "order": {"field": "rank", "type": "quantitative"}
     }
    },
    {"data": {"name": "R"}, "mark": {"type": "line", "interpolate": "linear", "color": "#808080", "strokeWidth": 1.5}, "encoding": {"x": {"field": "t", "type": "quantitative", "scale": {"domain": [0, 24], "nice": false}}, "y": {"field": "pv", "type": "quantitative", "scale": {"domain": [-2, 5], "nice": false}}}},
    {"data": {"name": "R"}, "mark": {"type": "line", "interpolate": "linear", "color": "#111111", "strokeWidth": 1.5}, "encoding": {"x": {"field": "t", "type": "quantitative", "scale": {"domain": [0, 24], "nice": false}}, "y": {"field": "net", "type": "quantitative", "scale": {"domain": [-2, 5], "nice": false}}}}
   ]
  }
 ]
}
],
"spacing": 112,
"resolve": {"scale": {"color": "independent", "stroke": "independent"}, "legend": {"color": "independent", "stroke": "independent"}}
}
